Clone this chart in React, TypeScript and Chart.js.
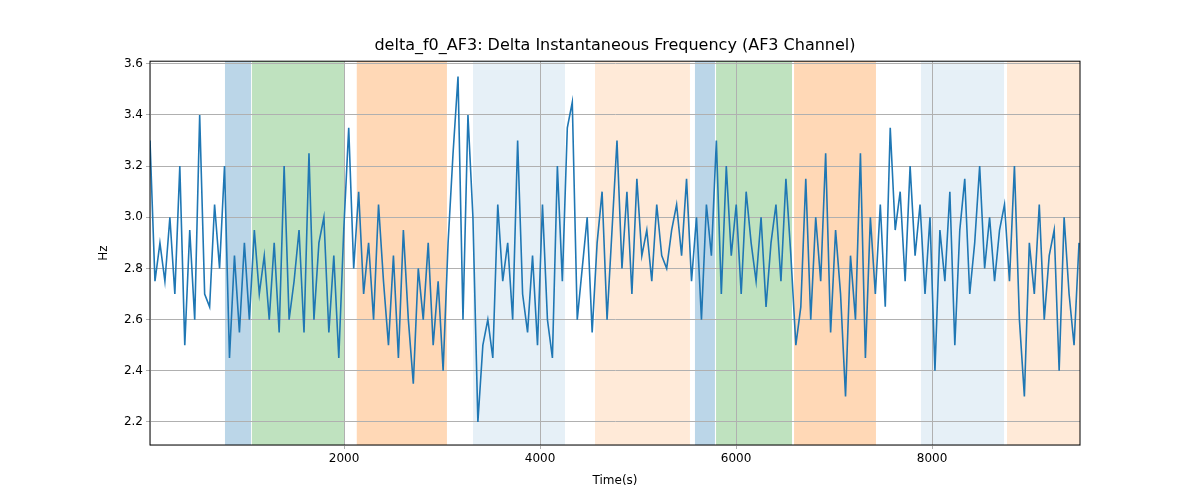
import React, { useEffect, useRef } from "react";
import { Chart, registerables } from "chart.js";
Chart.register(...registerables);

const values: number[] = [
  3.3, 2.75, 2.9, 2.75, 3.0, 2.7, 3.2, 2.5, 2.95, 2.6, 3.4, 2.7, 2.65, 3.05, 2.8, 3.2,
  2.45, 2.85, 2.55, 2.9, 2.6,
  2.95, 2.7, 2.85, 2.6, 2.9, 2.55, 3.2, 2.6, 2.75, 2.95, 2.55, 3.25, 2.6, 2.9, 3.0, 2.55, 2.85, 2.45, 2.95,
  3.35, 2.8, 3.1,
  2.7, 2.9, 2.6, 3.05, 2.75, 2.5, 2.85, 2.45, 2.95, 2.6, 2.35, 2.8, 2.6, 2.9, 2.5, 2.75, 2.4, 2.9,
  3.25, 3.55, 2.6, 3.4, 3.0,
  2.2, 2.5, 2.6, 2.45, 3.05, 2.75, 2.9, 2.6, 3.3, 2.7, 2.55, 2.85, 2.5, 3.05, 2.6, 2.45, 3.2, 2.75, 3.35,
  3.45, 2.6, 2.8, 3.0, 2.55, 2.9,
  3.1, 2.6, 2.95, 3.3, 2.8, 3.1, 2.7, 3.15, 2.85, 2.95, 2.75, 3.05, 2.85, 2.8, 2.95, 3.05, 2.85, 3.15, 2.75,
  3.0, 2.6, 3.05, 2.85, 3.3,
  2.7, 3.2, 2.85, 3.05, 2.7, 3.1, 2.9, 2.75, 3.0, 2.65, 2.9, 3.05, 2.75, 3.15, 2.85,
  2.5, 2.65, 3.15, 2.6, 3.0, 2.75, 3.25, 2.55, 2.95, 2.7, 2.3, 2.85, 2.6, 3.25, 2.45, 3.0, 2.7,
  3.05, 2.65, 3.35, 2.95, 3.1, 2.75, 3.2, 2.85, 3.05,
  2.7, 3.0, 2.4, 2.95, 2.75, 3.1, 2.5, 2.95, 3.15, 2.7, 2.9, 3.2, 2.8, 3.0, 2.75, 2.95, 3.05,
  2.75, 3.2, 2.6, 2.3, 2.9, 2.7, 3.05, 2.6, 2.85, 2.95, 2.4, 3.0, 2.7, 2.5, 2.9,
];
const tStart = 20;
const tEnd = 9500;
const times = values.map((_, i) => tStart + (i * (tEnd - tStart)) / (values.length - 1));

const bandStarts = [785, 1060, 2130, 3316, 4561, 5581, 5796, 6592, 7887, 8765];
const bandEnds = [1051, 2000, 3050, 4255, 5530, 5785, 6571, 7428, 8735, 9510];
const bandColors = [
  "rgba(31,119,180,0.3)", "rgba(44,160,44,0.3)", "rgba(255,127,14,0.3)",
  "rgba(31,119,180,0.11)", "rgba(255,127,14,0.16)",
  "rgba(31,119,180,0.3)", "rgba(44,160,44,0.3)", "rgba(255,127,14,0.3)",
  "rgba(31,119,180,0.11)", "rgba(255,127,14,0.16)",
];
const xTicks = [2000, 4000, 6000, 8000];
const yTicks = [2.2, 2.4, 2.6, 2.8, 3.0, 3.2, 3.4, 3.6];

export default function App() {
  const ref = useRef<HTMLCanvasElement>(null);
  useEffect(() => {
    document.body.style.margin = "0";
    const bands = {
      id: "bands",
      beforeDraw(chart: any) {
        const { ctx, chartArea, scales } = chart;
        ctx.save();
        bandStarts.forEach((s, i) => {
          const x0 = scales.x.getPixelForValue(s);
          const x1 = scales.x.getPixelForValue(bandEnds[i]);
          ctx.fillStyle = bandColors[i];
          ctx.fillRect(x0, chartArea.top, x1 - x0, chartArea.bottom - chartArea.top);
        });
        ctx.restore();
      },
      afterDraw(chart: any) {
        const { ctx, chartArea } = chart;
        ctx.save();
        ctx.strokeStyle = "#000";
        ctx.lineWidth = 1;
        ctx.strokeRect(chartArea.left, chartArea.top, chartArea.right - chartArea.left, chartArea.bottom - chartArea.top);
        ctx.restore();
      },
    };
    const chart = new Chart(ref.current!, {
      type: "line",
      data: {
        datasets: [{
          data: times.map((t, i) => ({ x: t, y: values[i] })),
          borderColor: "#1f77b4",
          borderWidth: 1.6,
          pointRadius: 0,
          tension: 0,
        }],
      },
      options: {
        animation: false,
        responsive: false,
        layout: { padding: { right: 120, left: 97, bottom: 10 } },
        plugins: {
          legend: { display: false },
          tooltip: { enabled: false },
          title: {
            display: true,
            fullSize: false,
            text: "delta_f0_AF3: Delta Instantaneous Frequency (AF3 Channel)",
            color: "#000",
            font: { family: "DejaVu Sans", size: 16, weight: "normal" },
            padding: { top: 36, bottom: 6 },
          },
        },
        scales: {
          x: {
            type: "linear",
            min: 20,
            max: 9510,
            afterBuildTicks: (s: any) => { s.ticks = xTicks.map((v) => ({ value: v })); },
            afterFit: (s: any) => { s.height = 45; },
            grid: { color: "#b0b0b0", drawTicks: true, tickLength: 4 },
            ticks: { color: "#000", font: { family: "DejaVu Sans", size: 12 }, maxRotation: 0, callback: (v: any) => String(v) },
            title: { display: true, text: "Time(s)", color: "#000", font: { family: "DejaVu Sans", size: 12 }, padding: 2 },
          },
          y: {
            min: 2.11,
            max: 3.61,
            afterBuildTicks: (s: any) => { s.ticks = yTicks.map((v) => ({ value: v })); },
            afterFit: (s: any) => { s.width = 53; },
            grid: { color: "#b0b0b0", tickLength: 4 },
            ticks: { color: "#000", font: { family: "DejaVu Sans", size: 12 }, callback: (v: any) => Number(v).toFixed(1) },
            title: { display: true, text: "Hz", color: "#000", font: { family: "DejaVu Sans", size: 12 }, padding: 0 },
          },
        },
      },
      plugins: [bands],
    });
    return () => chart.destroy();
  }, []);
  return <canvas ref={ref} width={1200} height={500} style={{ display: "block" }} />;
}
